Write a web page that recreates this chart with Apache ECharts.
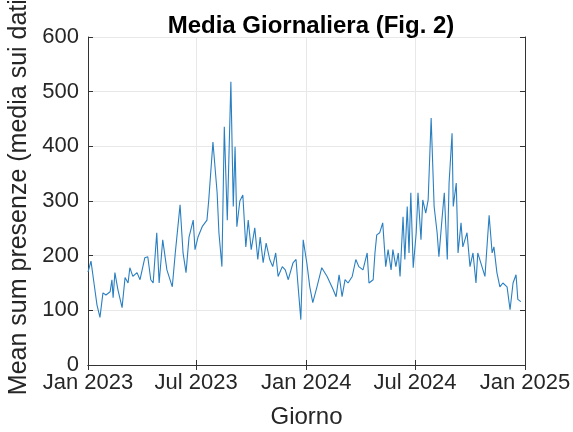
<!DOCTYPE html>
<html><head><meta charset="utf-8">
<script src="https://cdn.jsdelivr.net/npm/echarts@6/dist/echarts.min.js"></script>
<style>html,body{margin:0;padding:0;background:#fff}#c{width:573px;height:432px}</style>
</head><body><div id="c"></div>
<script>
const dates = ['2023-01-01','2023-01-06','2023-01-11','2023-01-16','2023-01-21','2023-01-26','2023-01-31','2023-02-07','2023-02-10','2023-02-12','2023-02-15','2023-02-20','2023-02-27','2023-03-04','2023-03-09','2023-03-12','2023-03-17','2023-03-24','2023-03-29','2023-04-06','2023-04-11','2023-04-16','2023-04-20','2023-04-26','2023-04-30','2023-05-06','2023-05-13','2023-05-22','2023-05-27','2023-06-04','2023-06-09','2023-06-14','2023-06-19','2023-06-26','2023-06-29','2023-07-04','2023-07-11','2023-07-19','2023-07-22','2023-07-29','2023-08-05','2023-08-08','2023-08-13','2023-08-17','2023-08-22','2023-08-28','2023-09-01','2023-09-04','2023-09-07','2023-09-12','2023-09-17','2023-09-22','2023-09-26','2023-10-01','2023-10-07','2023-10-12','2023-10-16','2023-10-21','2023-10-26','2023-11-01','2023-11-06','2023-11-11','2023-11-15','2023-11-22','2023-11-27','2023-12-02','2023-12-10','2023-12-15','2023-12-18','2023-12-23','2023-12-27','2024-01-02','2024-01-07','2024-01-12','2024-01-19','2024-01-27','2024-02-05','2024-02-10','2024-02-15','2024-02-20','2024-02-25','2024-03-01','2024-03-06','2024-03-11','2024-03-18','2024-03-24','2024-03-29','2024-04-05','2024-04-12','2024-04-15','2024-04-22','2024-04-25','2024-04-28','2024-05-03','2024-05-08','2024-05-13','2024-05-17','2024-05-22','2024-05-25','2024-05-30','2024-06-03','2024-06-06','2024-06-11','2024-06-14','2024-06-18','2024-06-21','2024-06-24','2024-06-28','2024-07-03','2024-07-06','2024-07-11','2024-07-14','2024-07-19','2024-07-23','2024-07-28','2024-08-02','2024-08-07','2024-08-10','2024-08-15','2024-08-19','2024-08-24','2024-08-27','2024-09-01','2024-09-03','2024-09-08','2024-09-11','2024-09-16','2024-09-19','2024-09-26','2024-10-01','2024-10-06','2024-10-11','2024-10-14','2024-10-21','2024-10-26','2024-11-02','2024-11-07','2024-11-10','2024-11-15','2024-11-20','2024-11-25','2024-12-02','2024-12-07','2024-12-12','2024-12-17','2024-12-20','2024-12-25'];
const values = [170,190,150,110,87,132,128,134,156,123,169,138,105,160,150,178,162,169,156,196,198,156,150,242,150,229,174,143,205,293,205,169,234,265,211,234,253,265,302,408,315,242,180,436,265,518,290,399,253,300,311,216,265,211,251,193,234,187,223,193,180,205,162,180,174,156,187,193,150,83,229,187,143,114,143,178,162,150,138,125,165,125,156,150,162,193,180,174,205,150,156,205,238,242,260,180,211,174,211,180,205,162,271,193,290,205,315,178,242,315,229,302,278,302,452,290,242,198,265,315,193,333,424,290,333,205,260,216,242,180,205,150,205,180,162,274,205,216,169,143,150,143,101,150,165,120,116];
const tickDates = ['2023-01-01','2023-07-01','2024-01-01','2024-07-01','2025-01-01'];
const tickLabels = ['Jan 2023','Jul 2023','Jan 2024','Jul 2024','Jan 2025'];
const titleText = 'Media Giornaliera (Fig. 2)';
const xName = 'Giorno';
const yName = 'Mean sum presenze (media sui dati)';

const ts = s => { const p = s.split('-').map(Number); return Date.UTC(p[0], p[1]-1, p[2]); };
const tickTs = tickDates.map(ts);
const labelMap = {}; tickTs.forEach((t,i)=>labelMap[t]=tickLabels[i]);
const FONT = '"Liberation Sans", Arial, Helvetica, sans-serif';
const AX = '#333333';
const TXT = '#262626';

const chart = echarts.init(document.getElementById('c'), null, {renderer:'canvas'});
const xBase = {
  type:'value', min: tickTs[0], max: tickTs[tickTs.length-1], scale:true,
  axisLine:{show:true, lineStyle:{color:AX, width:1}},
  axisTick:{show:true, inside:true, length:5, customValues: tickTs, lineStyle:{color:AX}},
  splitLine:{show:false}
};
chart.setOption({
  animation:false,
  backgroundColor:'#fff',
  title:{text:titleText, left:306, textAlign:'center', top:9,
    textStyle:{fontFamily:FONT, fontSize:24, fontWeight:'bold', color:'#000'}},
  grid:{left:88, right:48, top:37, bottom:67, containLabel:false, outerBoundsMode:'none'},
  xAxis:[
    Object.assign({}, xBase, {position:'bottom',
      name:xName, nameLocation:'middle', nameGap:40,
      nameTextStyle:{fontFamily:FONT, fontSize:24, color:TXT},
      axisLabel:{show:true, customValues: tickTs, fontFamily:FONT, fontSize:22, color:TXT, margin:7,
        formatter: v => labelMap[v] || ''},
      splitLine:{show:true, lineStyle:{color:'#e8e8e8', width:1}}
    }),
    Object.assign({}, xBase, {position:'top', axisLabel:{show:false}})
  ],
  yAxis:[
    {type:'value', min:0, max:600, interval:100, position:'left',
      name:yName, nameLocation:'middle', nameGap:56,
      nameTextStyle:{fontFamily:FONT, fontSize:25, color:TXT, padding:[0,0,0,16]},
      axisLine:{show:true, lineStyle:{color:AX}},
      axisTick:{show:true, inside:true, length:5, lineStyle:{color:AX}},
      axisLabel:{fontFamily:FONT, fontSize:22, color:TXT, margin:9},
      splitLine:{show:true, lineStyle:{color:'#e8e8e8', width:1}}},
    {type:'value', min:0, max:600, interval:100, position:'right',
      axisLine:{show:true, lineStyle:{color:AX}},
      axisTick:{show:true, inside:true, length:5, lineStyle:{color:AX}},
      axisLabel:{show:false}, splitLine:{show:false}}
  ],
  series:[{
    type:'line', xAxisIndex:0, yAxisIndex:0,
    data: dates.map((d,i)=>[ts(d), values[i]]),
    showSymbol:false, symbol:'none',
    lineStyle:{color:'#2a7fc1', width:1.1},
    itemStyle:{color:'#2a7fc1'}
  }]
});
</script></body></html>
